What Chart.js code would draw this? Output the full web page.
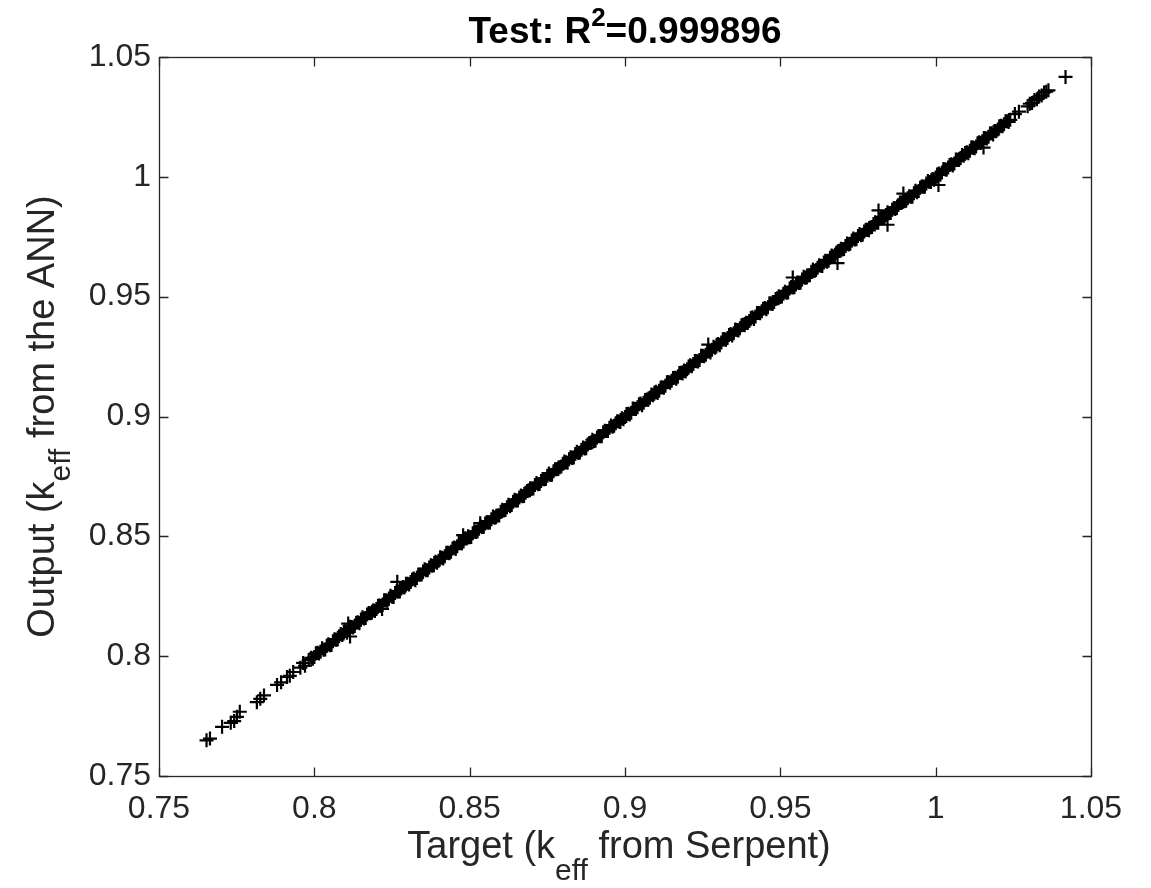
<!DOCTYPE html>
<html>
<head>
<meta charset="utf-8">
<script src="https://cdn.jsdelivr.net/npm/chart.js@4.4.1/dist/chart.umd.min.js"></script>
<style>
html,body{margin:0;padding:0;background:#fff;}
canvas{display:block;}
</style>
</head>
<body>
<canvas id="c" width="1151" height="888"></canvas>
<script>
// ---- tick values / labels ----
const xTickValues = [0.75, 0.8, 0.85, 0.9, 0.95, 1, 1.05];
const xTickLabels = ['0.75', '0.8', '0.85', '0.9', '0.95', '1', '1.05'];
const yTickValues = [0.75, 0.8, 0.85, 0.9, 0.95, 1, 1.05];
const yTickLabels = ['0.75', '0.8', '0.85', '0.9', '0.95', '1', '1.05'];

// ---- data: Target (keff from Serpent) vs Output (keff from the ANN) ----
const lowTailTarget = [0.7653,0.7664,0.7703,0.7731,0.7742,0.7751,0.7760,0.7815,0.7826,0.7838,0.7880,0.7893,0.7912,0.7921,0.7932,0.7955,0.7964,0.7970,0.7982];
const lowTailOutput = [0.7649,0.7656,0.7705,0.7722,0.7729,0.7747,0.7768,0.7808,0.7822,0.7836,0.7880,0.7891,0.7913,0.7918,0.7934,0.7952,0.7972,0.7960,0.7984];

const bandTarget = [
0.799,0.800,0.801,0.802,0.803,0.804,0.805,0.806,0.807,0.808,
0.809,0.810,0.811,0.812,0.813,0.814,0.815,0.816,0.817,0.818,
0.819,0.820,0.821,0.822,0.823,0.824,0.825,0.826,0.827,0.828,
0.829,0.830,0.831,0.832,0.833,0.834,0.835,0.836,0.837,0.838,
0.839,0.840,0.841,0.842,0.843,0.844,0.845,0.846,0.847,0.848,
0.849,0.850,0.851,0.852,0.853,0.854,0.855,0.856,0.857,0.858,
0.859,0.860,0.861,0.862,0.863,0.864,0.865,0.866,0.867,0.868,
0.869,0.870,0.871,0.872,0.873,0.874,0.875,0.876,0.877,0.878,
0.879,0.880,0.881,0.882,0.883,0.884,0.885,0.886,0.887,0.888,
0.889,0.890,0.891,0.892,0.893,0.894,0.895,0.896,0.897,0.898,
0.899,0.900,0.901,0.902,0.903,0.904,0.905,0.906,0.907,0.908,
0.909,0.910,0.911,0.912,0.913,0.914,0.915,0.916,0.917,0.918,
0.919,0.920,0.921,0.922,0.923,0.924,0.925,0.926,0.927,0.928,
0.929,0.930,0.931,0.932,0.933,0.934,0.935,0.936,0.937,0.938,
0.939,0.940,0.941,0.942,0.943,0.944,0.945,0.946,0.947,0.948,
0.949,0.950,0.951,0.952,0.953,0.954,0.955,0.956,0.957,0.958,
0.959,0.960,0.961,0.962,0.963,0.964,0.965,0.966,0.967,0.968,
0.969,0.970,0.971,0.972,0.973,0.974,0.975,0.976,0.977,0.978,
0.979,0.980,0.981,0.982,0.983,0.984,0.985,0.986,0.987,0.988,
0.989,0.990,0.991,0.992,0.993,0.994,0.995,0.996,0.997,0.998,
0.999,1.000,1.001,1.002,1.003,1.004,1.005,1.006,1.007,1.008,
1.009,1.010,1.011,1.012,1.013,1.014,1.015,1.016,1.017,1.018,
1.019,1.020,1.021,1.022,1.023,1.024
];
const bandOutput = [
0.7993,0.7997,0.8014,0.8018,0.8027,0.8043,0.8046,0.8062,0.8068,0.8083,
0.8088,0.8105,0.8109,0.8122,0.8126,0.8141,0.8153,0.8157,0.8174,0.8179,
0.8192,0.8197,0.8211,0.8215,0.8233,0.8240,0.8248,0.8264,0.8269,0.8282,
0.8287,0.8302,0.8309,0.8324,0.8326,0.8341,0.8353,0.8358,0.8370,0.8377,
0.8394,0.8398,0.8411,0.8417,0.8432,0.8436,0.8453,0.8459,0.8475,0.8478,
0.8491,0.8496,0.8513,0.8518,0.8532,0.8539,0.8554,0.8557,0.8571,0.8578,
0.8587,0.8603,0.8608,0.8621,0.8626,0.8644,0.8649,0.8662,0.8667,0.8682,
0.8692,0.8699,0.8714,0.8717,0.8731,0.8738,0.8753,0.8756,0.8772,0.8780,
0.8788,0.8803,0.8809,0.8822,0.8827,0.8844,0.8848,0.8861,0.8866,0.8883,
0.8891,0.8897,0.8912,0.8918,0.8934,0.8939,0.8953,0.8957,0.8972,0.8979,
0.8993,0.8998,0.9011,0.9016,0.9032,0.9039,0.9054,0.9057,0.9071,0.9078,
0.9089,0.9103,0.9107,0.9122,0.9128,0.9144,0.9149,0.9162,0.9166,0.9183,
0.9192,0.9197,0.9214,0.9219,0.9231,0.9236,0.9253,0.9258,0.9272,0.9279,
0.9287,0.9302,0.9309,0.9323,0.9328,0.9344,0.9347,0.9361,0.9368,0.9383,
0.9391,0.9398,0.9414,0.9417,0.9432,0.9439,0.9453,0.9456,0.9471,0.9478,
0.9493,0.9499,0.9512,0.9516,0.9534,0.9538,0.9551,0.9557,0.9572,0.9579,
0.9588,0.9604,0.9607,0.9621,0.9629,0.9643,0.9646,0.9662,0.9668,0.9683,
0.9692,0.9697,0.9711,0.9718,0.9734,0.9739,0.9753,0.9756,0.9772,0.9779,
0.9789,0.9803,0.9808,0.9824,0.9827,0.9841,0.9848,0.9863,0.9866,0.9882,
0.9893,0.9898,0.9911,0.9917,0.9932,0.9936,0.9954,0.9959,0.9972,0.9978,
0.9991,0.9997,1.0014,1.0018,1.0032,1.0039,1.0053,1.0056,1.0071,1.0078,
1.0088,1.0103,1.0109,1.0122,1.0127,1.0144,1.0148,1.0161,1.0167,1.0182,
1.0191,1.0198,1.0213,1.0219,1.0232,1.0238
];

const band2Target = [
0.7995,0.8005,0.8015,0.8025,0.8035,0.8045,0.8055,0.8065,0.8075,0.8085,
0.8095,0.8105,0.8115,0.8125,0.8135,0.8145,0.8155,0.8165,0.8175,0.8185,
0.8195,0.8205,0.8215,0.8225,0.8235,0.8245,0.8255,0.8265,0.8275,0.8285,
0.8295,0.8305,0.8315,0.8325,0.8335,0.8345,0.8355,0.8365,0.8375,0.8385,
0.8395,0.8405,0.8415,0.8425,0.8435,0.8445,0.8455,0.8465,0.8475,0.8485,
0.8495,0.8505,0.8515,0.8525,0.8535,0.8545,0.8555,0.8565,0.8575,0.8585,
0.8595,0.8605,0.8615,0.8625,0.8635,0.8645,0.8655,0.8665,0.8675,0.8685,
0.8695,0.8705,0.8715,0.8725,0.8735,0.8745,0.8755,0.8765,0.8775,0.8785,
0.8795,0.8805,0.8815,0.8825,0.8835,0.8845,0.8855,0.8865,0.8875,0.8885,
0.8895,0.8905,0.8915,0.8925,0.8935,0.8945,0.8955,0.8965,0.8975,0.8985,
0.8995,0.9005,0.9015,0.9025,0.9035,0.9045,0.9055,0.9065,0.9075,0.9085,
0.9095,0.9105,0.9115,0.9125,0.9135,0.9145,0.9155,0.9165,0.9175,0.9185,
0.9195,0.9205,0.9215,0.9225,0.9235,0.9245,0.9255,0.9265,0.9275,0.9285,
0.9295,0.9305,0.9315,0.9325,0.9335,0.9345,0.9355,0.9365,0.9375,0.9385,
0.9395,0.9405,0.9415,0.9425,0.9435,0.9445,0.9455,0.9465,0.9475,0.9485,
0.9495,0.9505,0.9515,0.9525,0.9535,0.9545,0.9555,0.9565,0.9575,0.9585,
0.9595,0.9605,0.9615,0.9625,0.9635,0.9645,0.9655,0.9665,0.9675,0.9685,
0.9695,0.9705,0.9715,0.9725,0.9735,0.9745,0.9755,0.9765,0.9775,0.9785,
0.9795,0.9805,0.9815,0.9825,0.9835,0.9845,0.9855,0.9865,0.9875,0.9885,
0.9895,0.9905,0.9915,0.9925,0.9935,0.9945,0.9955,0.9965,0.9975,0.9985,
0.9995,1.0005,1.0015,1.0025,1.0035,1.0045,1.0055,1.0065,1.0075,1.0085,
1.0095,1.0105,1.0115,1.0125,1.0135,1.0145,1.0155,1.0165,1.0175,1.0185,
1.0195,1.0205,1.0215,1.0225,1.0235
];
const band2Output = [
0.7989,0.8012,0.8011,0.8033,0.8028,0.8050,0.8047,0.8071,0.8070,0.8092,
0.8101,0.8098,0.8123,0.8120,0.8139,0.8137,0.8162,0.8159,0.8180,0.8181,
0.8188,0.8210,0.8209,0.8233,0.8231,0.8252,0.8247,0.8271,0.8270,0.8289,
0.8302,0.8299,0.8320,0.8317,0.8341,0.8341,0.8363,0.8358,0.8379,0.8379,
0.8390,0.8413,0.8408,0.8431,0.8429,0.8449,0.8447,0.8472,0.8471,0.8491,
0.8500,0.8497,0.8521,0.8521,0.8542,0.8539,0.8559,0.8558,0.8583,0.8580,
0.8587,0.8611,0.8610,0.8632,0.8631,0.8653,0.8649,0.8670,0.8668,0.8689,
0.8701,0.8700,0.8723,0.8718,0.8739,0.8739,0.8762,0.8757,0.8780,0.8781,
0.8791,0.8812,0.8807,0.8830,0.8829,0.8853,0.8850,0.8871,0.8868,0.8889,
0.8903,0.8899,0.8919,0.8918,0.8941,0.8940,0.8962,0.8961,0.8980,0.8977,
0.8989,0.9010,0.9008,0.9033,0.9031,0.9051,0.9047,0.9069,0.9070,0.9092,
0.9100,0.9098,0.9121,0.9120,0.9143,0.9141,0.9161,0.9157,0.9182,0.9179,
0.9188,0.9209,0.9210,0.9232,0.9229,0.9253,0.9251,0.9270,0.9267,0.9291,
0.9299,0.9297,0.9322,0.9320,0.9340,0.9338,0.9363,0.9359,0.9381,0.9381,
0.9390,0.9411,0.9407,0.9432,0.9431,0.9450,0.9448,0.9473,0.9469,0.9490,
0.9502,0.9501,0.9521,0.9517,0.9540,0.9539,0.9559,0.9558,0.9583,0.9580,
0.9589,0.9613,0.9611,0.9631,0.9628,0.9650,0.9650,0.9672,0.9667,0.9689,
0.9700,0.9699,0.9722,0.9721,0.9743,0.9740,0.9761,0.9758,0.9779,0.9777,
0.9791,0.9811,0.9808,0.9830,0.9827,0.9852,0.9849,0.9869,0.9870,0.9893,
0.9901,0.9900,0.9919,0.9917,0.9942,0.9941,0.9960,0.9959,0.9983,0.9978,
0.9988,1.0010,1.0009,1.0033,1.0030,1.0049,1.0047,1.0072,1.0071,1.0091,
1.0099,1.0098,1.0123,1.0119,1.0140,1.0141,1.0162,1.0160,1.0181,1.0177,
1.0190,1.0211,1.0211,1.0232,1.0229
];

const topTailTarget = [1.0255,1.0268,1.0296,1.0303,1.0310,1.0318,1.0326,1.0333,1.0341,1.0349,1.0356,1.0363,1.0418];
const topTailOutput = [1.0262,1.0272,1.0294,1.0305,1.0308,1.0321,1.0324,1.0335,1.0339,1.0352,1.0355,1.0361,1.0417];

const outlierTarget = [0.8267,0.8115,0.8109,0.8218,0.8479,0.8534,0.9268,0.9540,0.9684,0.9816,0.9845,0.9896,1.0009,1.0154];
const outlierOutput = [0.8310,0.8082,0.8136,0.8197,0.8505,0.8555,0.9300,0.9580,0.9640,0.9860,0.9800,0.9930,0.9966,1.0122];

// ---- build point table from the arrays ----
const targets = [].concat(lowTailTarget, bandTarget, band2Target, topTailTarget, outlierTarget);
const outputs = [].concat(lowTailOutput, bandOutput, band2Output, topTailOutput, outlierOutput);
const points = targets.map((t, i) => ({x: t, y: outputs[i]}));

const FONT = "'Liberation Sans', Arial, Helvetica, sans-serif";
const AX = '#262626';

function drawRich(ctx, parts, x, y, align) {
  let w = 0;
  parts.forEach(p => {
    ctx.font = (p.bold ? 'bold ' : '') + p.size + 'px ' + FONT;
    p.w = ctx.measureText(p.t).width;
    w += p.w;
  });
  let cx = align === 'center' ? x - w / 2 : x;
  ctx.textBaseline = 'alphabetic';
  ctx.textAlign = 'left';
  parts.forEach(p => {
    ctx.font = (p.bold ? 'bold ' : '') + p.size + 'px ' + FONT;
    ctx.fillStyle = p.color;
    ctx.fillText(p.t, cx, y + (p.dy || 0));
    cx += p.w;
  });
}

const framePlugin = {
  id: 'frame',
  afterDraw(chart) {
    const ctx = chart.ctx;
    const a = chart.chartArea;
    const xs = chart.scales.x, ys = chart.scales.y;
    ctx.save();
    ctx.strokeStyle = AX;
    ctx.lineWidth = 1.3;
    const L = Math.round(a.left) + 0.5, R = Math.round(a.right) + 0.5;
    const T = Math.round(a.top) + 0.5, B = Math.round(a.bottom) + 0.5;
    ctx.strokeRect(L, T, R - L, B - T);
    const tl = 9;
    ctx.beginPath();
    xTickValues.forEach(v => {
      const px = Math.round(xs.getPixelForValue(v)) + 0.5;
      ctx.moveTo(px, B); ctx.lineTo(px, B - tl);
      ctx.moveTo(px, T); ctx.lineTo(px, T + tl);
    });
    yTickValues.forEach(v => {
      const py = Math.round(ys.getPixelForValue(v)) + 0.5;
      ctx.moveTo(L, py); ctx.lineTo(L + tl, py);
      ctx.moveTo(R, py); ctx.lineTo(R - tl, py);
    });
    ctx.stroke();

    const cxp = (a.left + a.right) / 2;
    const cyp = (a.top + a.bottom) / 2;
    // title
    drawRich(ctx, [
      {t: 'Test: R', size: 37, bold: true, color: '#000'},
      {t: '2', size: 26, bold: true, color: '#000', dy: -17},
      {t: '=0.999896', size: 37, bold: true, color: '#000'}
    ], cxp, 43, 'center');
    // x label
    drawRich(ctx, [
      {t: 'Target (k', size: 38, color: AX},
      {t: 'eff', size: 30, color: AX, dy: 22},
      {t: ' from Serpent)', size: 38, color: AX}
    ], cxp - 6, 858, 'center');
    // y label
    ctx.translate(54, cyp);
    ctx.rotate(-Math.PI / 2);
    drawRich(ctx, [
      {t: 'Output (k', size: 38, color: AX},
      {t: 'eff', size: 30, color: AX, dy: 16},
      {t: ' from the ANN)', size: 38, color: AX}
    ], 0, 0, 'center');
    ctx.restore();
  }
};

new Chart(document.getElementById('c'), {
  type: 'scatter',
  data: {
    datasets: [{
      data: points,
      pointStyle: 'cross',
      pointRadius: 7,
      pointHoverRadius: 7,
      borderWidth: 2.2,
      borderColor: '#000',
      backgroundColor: '#000'
    }]
  },
  options: {
    responsive: false,
    animation: false,
    devicePixelRatio: 1,
    events: [],
    layout: {padding: {left: 0, top: 57, right: 60, bottom: 0}},
    plugins: {legend: {display: false}, tooltip: {enabled: false}, title: {display: false}},
    scales: {
      x: {
        type: 'linear', min: 0.75, max: 1.05,
        afterBuildTicks: s => { s.ticks = xTickValues.map(v => ({value: v})); },
        afterFit: s => { s.height = 112; },
        grid: {display: false, drawTicks: false},
        border: {display: false},
        ticks: {
          color: AX, padding: 14, maxRotation: 0, autoSkip: false,
          font: {size: 32, family: FONT},
          callback: (v) => { const i = xTickValues.indexOf(v); return i >= 0 ? xTickLabels[i] : ''; }
        }
      },
      y: {
        type: 'linear', min: 0.75, max: 1.05,
        afterBuildTicks: s => { s.ticks = yTickValues.map(v => ({value: v})); },
        afterFit: s => { s.width = 159; },
        grid: {display: false, drawTicks: false},
        border: {display: false},
        ticks: {
          color: AX, padding: 8, autoSkip: false,
          font: {size: 32, family: FONT},
          callback: (v) => { const i = yTickValues.indexOf(v); return i >= 0 ? yTickLabels[i] : ''; }
        }
      }
    }
  },
  plugins: [framePlugin]
});
</script>
</body>
</html>
